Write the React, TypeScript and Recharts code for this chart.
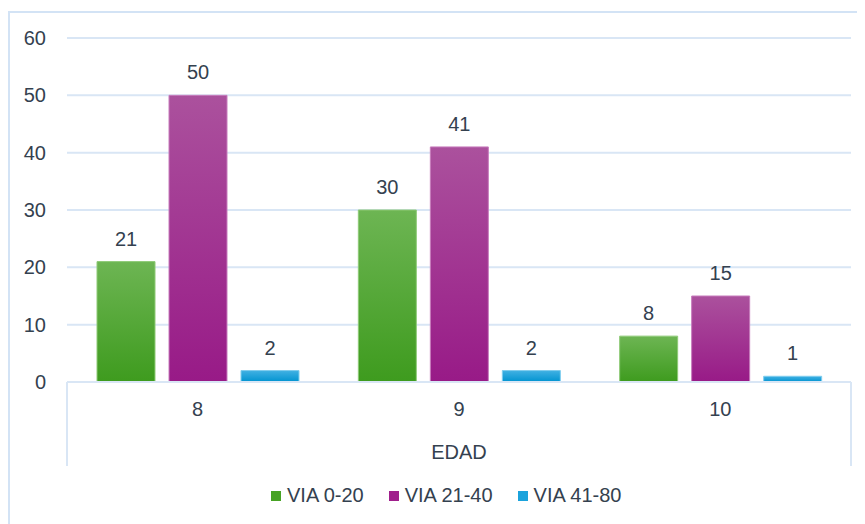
import React from "react";
import { Bar, BarChart, CartesianGrid, LabelList, XAxis, YAxis } from "recharts";

// values
const ages = ["8", "9", "10"];
const via0to20 = [21, 30, 8];
const via21to40 = [50, 41, 15];
const via41to80 = [2, 2, 1];
const yTicks = [0, 10, 20, 30, 40, 50, 60];
const seriesNames = ["VIA 0-20", "VIA 21-40", "VIA 41-80"];
const axisTitle = "EDAD";

const data = ages.map((edad, i) => ({
  edad,
  a: via0to20[i],
  b: via21to40[i],
  c: via41to80[i],
}));

const TEXT = "#34414f";
const GRID = "#d9e6f5";
const FONT = "'Liberation Sans', Arial, sans-serif";
const FS = 20;

const swatches = ["#47a324", "#a01f8c", "#1ba3dc"];

function AxisBox(props: any) {
  const vb = props.viewBox || {};
  const { x = 0, y = 0, width = 0, height = 0 } = vb;
  return (
    <g>
      <line x1={x} y1={y} x2={x} y2={y + height} stroke={GRID} strokeWidth={2} />
      <line x1={x + width} y1={y} x2={x + width} y2={y + height} stroke={GRID} strokeWidth={2} />
      <text x={x + width / 2} y={y + 77} textAnchor="middle" fill={TEXT} fontSize={FS}>
        {axisTitle}
      </text>
    </g>
  );
}

export default function App() {
  const labelStyle = { fill: TEXT, fontSize: FS };
  return (
    <div style={{ position: "relative", width: 857, height: 516, overflow: "hidden", fontFamily: FONT }}>
      <div
        style={{
          position: "absolute",
          left: 0,
          top: 3,
          width: 900,
          height: 600,
          border: "2px solid #d3e3f5",
          boxSizing: "border-box",
        }}
      />
      <BarChart
        width={857}
        height={516}
        data={data}
        margin={{ top: 30, right: 14, left: 0, bottom: 58 }}
        barGap={14}
        barSize={58}
        style={{ position: "absolute", left: 0, top: 0, fontFamily: FONT }}
      >
        <defs>
          <linearGradient id="gGreen" x1="0" y1="0" x2="0" y2="1">
            <stop offset="0%" stopColor="#6db553" />
            <stop offset="100%" stopColor="#3e9b1e" />
          </linearGradient>
          <linearGradient id="gPurple" x1="0" y1="0" x2="0" y2="1">
            <stop offset="0%" stopColor="#ab519d" />
            <stop offset="100%" stopColor="#981a87" />
          </linearGradient>
          <linearGradient id="gBlue" x1="0" y1="0" x2="0" y2="1">
            <stop offset="0%" stopColor="#41b1e3" />
            <stop offset="100%" stopColor="#0093d0" />
          </linearGradient>
        </defs>
        <CartesianGrid vertical={false} stroke={GRID} strokeWidth={2} />
        <XAxis
          dataKey="edad"
          height={84}
          axisLine={{ stroke: GRID, strokeWidth: 2 }}
          tickLine={false}
          tickSize={0}
          tickMargin={20}
          tick={{ fill: TEXT, fontSize: FS }}
          label={(p: any) => <AxisBox {...p} />}
        />
        <YAxis
          width={59}
          domain={[0, 60]}
          ticks={yTicks}
          axisLine={false}
          tickLine={false}
          tickSize={0}
          tickMargin={21}
          tick={{ fill: TEXT, fontSize: FS }}
        />
        <Bar dataKey="a" fill="url(#gGreen)" stroke="#8fca77" strokeWidth={1} isAnimationActive={false}>
          <LabelList dataKey="a" position="top" offset={16} style={labelStyle} />
        </Bar>
        <Bar dataKey="b" fill="url(#gPurple)" stroke="#c77cbc" strokeWidth={1} isAnimationActive={false}>
          <LabelList dataKey="b" position="top" offset={16} style={labelStyle} />
        </Bar>
        <Bar dataKey="c" fill="url(#gBlue)" stroke="#7fcdee" strokeWidth={1} isAnimationActive={false}>
          <LabelList dataKey="c" position="top" offset={16} style={labelStyle} />
        </Bar>
      </BarChart>
      <div
        style={{
          position: "absolute",
          left: 263,
          top: 476,
          display: "flex",
          alignItems: "center",
          gap: 25,
          color: TEXT,
          fontSize: FS,
          whiteSpace: "nowrap",
        }}
      >
        {seriesNames.map((name, i) => (
          <div key={name} style={{ display: "flex", alignItems: "center" }}>
            <span style={{ width: 10, height: 10, background: swatches[i], marginRight: 6, display: "inline-block" }} />
            {name}
          </div>
        ))}
      </div>
    </div>
  );
}
